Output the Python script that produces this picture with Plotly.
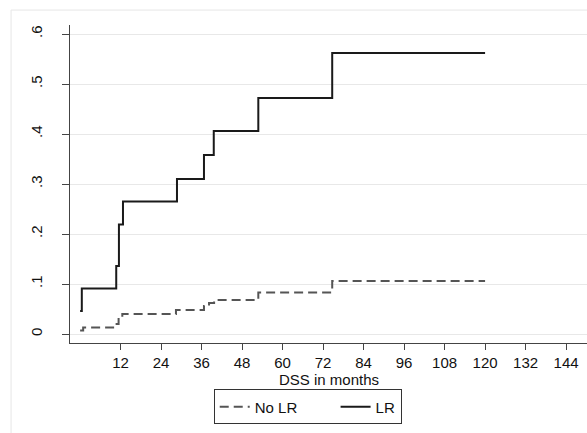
import plotly.graph_objects as go

# Data (months, cumulative incidence)
lr_months = [0, 0.5, 10.7, 11.5, 12.7, 28.7, 36.7, 39.6, 52.8, 74.7, 120]
lr_values = [0.046, 0.091, 0.136, 0.219, 0.265, 0.310, 0.358, 0.406, 0.472, 0.562, 0.562]

nolr_months = [0, 0.9, 10.4, 11.4, 12.5, 28.4, 36.7, 38.2, 39.7, 52.8, 74.7, 120]
nolr_values = [0.007, 0.013, 0.020, 0.033, 0.040, 0.048, 0.056, 0.062, 0.068, 0.083, 0.106, 0.106]

x_ticks = [12, 24, 36, 48, 60, 72, 84, 96, 108, 120, 132, 144]
y_ticks = [0, 0.1, 0.2, 0.3, 0.4, 0.5, 0.6]
y_tick_labels = ["0", ".1", ".2", ".3", ".4", ".5", ".6"]

FONT = "Liberation Sans, Arial, sans-serif"
PAD = "\u00a0" * 8

fig = go.Figure()
fig.add_trace(go.Scatter(
    x=nolr_months, y=nolr_values, mode="lines", name="No LR" + PAD,
    line=dict(shape="hv", color="#555555", width=2, dash="9px,5px"),
))
fig.add_trace(go.Scatter(
    x=lr_months, y=lr_values, mode="lines", name="LR",
    line=dict(shape="hv", color="#1a1a1a", width=2),
))

fig.update_layout(
    width=587, height=433,
    margin=dict(l=70, r=0, t=25, b=90),
    paper_bgcolor="white", plot_bgcolor="white",
    font=dict(family=FONT, size=15, color="#111111"),
    showlegend=True,
    legend=dict(
        orientation="h", x=0.278, xanchor="left", y=-0.146, yanchor="top",
        bordercolor="#333333", borderwidth=1, bgcolor="white",
        font=dict(size=15), traceorder="normal",
    ),
    shapes=[dict(
        type="rect", xref="paper", yref="paper",
        x0=-0.114, x1=1.05, y0=-0.35, y1=1.047,
        line=dict(color="#e6e6e6", width=1), fillcolor="rgba(0,0,0,0)",
        layer="below",
    )],
    annotations=[dict(
        text="DSS in months", xref="paper", yref="paper",
        x=0.5, y=-0.114, xanchor="center", yanchor="middle",
        showarrow=False, font=dict(size=15),
    )],
)

fig.update_xaxes(
    range=[-3, 150.2],
    tickvals=x_ticks, ticks="outside", ticklen=6, tickcolor="#444444",
    showline=True, linecolor="#444444", linewidth=1,
    showgrid=False, zeroline=False,
    tickfont=dict(size=15),
)
fig.update_yaxes(
    range=[-0.018, 0.618],
    tickvals=y_ticks, ticktext=y_tick_labels, tickangle=-90,
    ticks="outside", ticklen=7, tickcolor="#444444",
    showline=True, linecolor="#444444", linewidth=1,
    showgrid=True, gridcolor="#e8e8e8", gridwidth=1, zeroline=False,
    tickfont=dict(size=15), ticklabelstandoff=14,
)

fig.write_html(
    "out.html",
    config={"displayModeBar": False},
    post_script="document.body.style.margin='0';document.body.style.overflow='hidden';",
)
